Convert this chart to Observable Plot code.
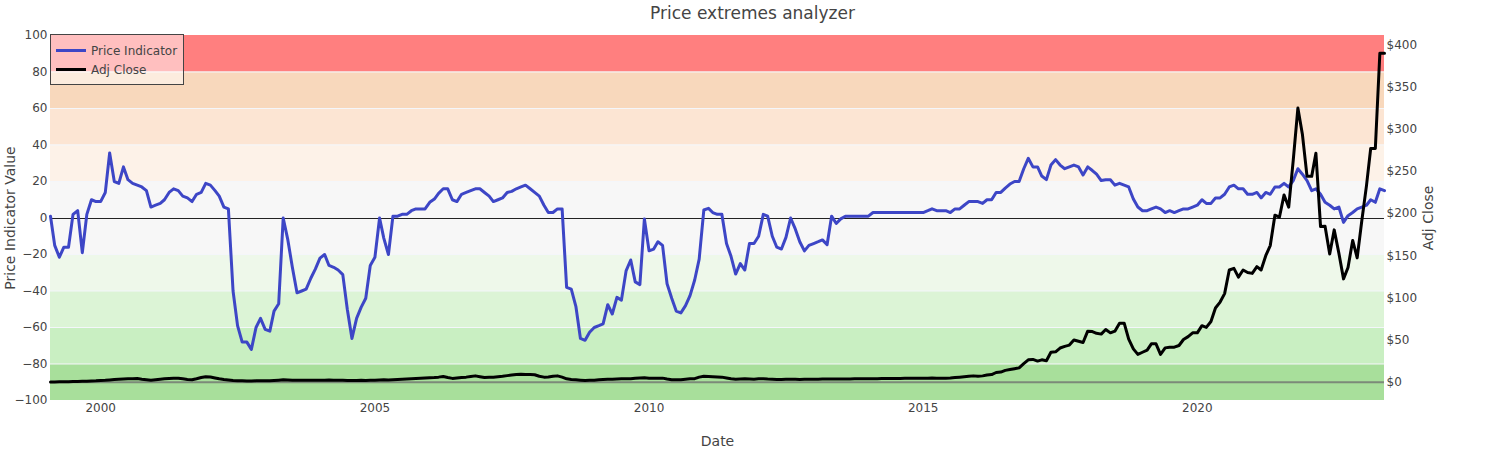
<!DOCTYPE html>
<html><head><meta charset="utf-8">
<script src="https://cdn.jsdelivr.net/npm/d3@7"></script>
<script src="https://cdn.jsdelivr.net/npm/@observablehq/plot@0.6"></script>
<style>
body{margin:0;background:#fff;font-family:"DejaVu Sans",sans-serif;}
#wrap{position:relative;width:1504px;height:450px;}
#legend{position:absolute;left:50px;top:34px;width:134px;height:51px;border:1px solid #444;background:rgba(255,255,255,0.5);box-sizing:border-box;}
</style></head><body><div id="wrap"></div>
<script>
const title = "Price extremes analyzer";
const startMonth = "1999-02-01";
const priceIndicator = [
1,-15,-21.5,-16,-16,2,4,-19,2,10,9,9,14,35.6,20,19,28,21,19,18,
17,15,6,7,8,10,14,16,15,12,11,9,13,14,19,18,15,12,6,5,
-40,-59,-68,-68,-72,-60,-55,-61,-62,-51,-47,0,-12,-27,-41,-40,-39,-33,-28,-22,
-20,-26,-27,-28.5,-31,-50,-66,-55,-49,-44,-26,-21.5,0,-11,-20,1,1,2,2,4,
5,5,5,8.6,10.4,13.5,16,16,10,9,13,14,15,16,16,14,12,9,10,11,
14,14.6,16,17,18,16,14,12,7,3,3,5,5,-38,-39,-48.6,-66,-67,-62.6,-60,
-59,-58,-47.5,-52.6,-43.5,-45,-29,-23,-35,-36.5,-0.5,-18,-17,-13,-15,-36,-44,-51,-52,-48,
-42.5,-34,-22.5,4.4,5.3,3,2,2,-14,-21,-30.7,-25,-28.5,-14,-14,-10,2,1,-10,-16,
-17,-10.6,0,-6,-13,-18,-15,-14,-13,-12,-14.6,1,-3,-0.5,1,1,1,1,1,1,
3,3,3,3,3,3,3,3,3,3,3,3,4,5,4,4,4,3,5,5,
7,9,9,9,8,10,10,14,14,16.4,18.6,20,20,27,32.7,28,28,23,21,29,
32,29,27,28,29,28,23.6,28,26,24,20.5,21,21,18,19,18,17,10.4,6,4,
4,5,6,5,3,4,3,4,5,5,6,7,10,8,8,11,11,13,17,18,
16,16,13,13,14,11,14,13,17,17,19,17,20.5,27,24,20.5,15,16,13,8.6,
7,5,6,-2.4,1.3,3,5,6,7,10,8.6,16,15
];
const adjClose = [
0.3,0.3,0.4,0.5,0.6,0.8,0.9,1.0,1.2,1.4,1.6,2.0,2.3,2.7,3.1,3.5,3.8,4.0,4.2,4.3,
3.5,2.8,2.2,2.8,3.5,4.0,4.3,4.6,4.7,4.0,3.2,2.8,4.0,5.5,6.5,6.2,5.0,4.0,3.2,2.6,
2.0,1.7,1.6,1.5,1.5,1.6,1.6,1.7,1.7,2.0,2.4,2.8,2.5,2.3,2.2,2.4,2.3,2.2,2.2,2.3,
2.4,2.5,2.4,2.3,2.2,2.0,1.9,2.1,2.2,2.0,2.2,2.4,2.6,2.8,2.7,3.0,3.3,3.5,3.8,4.0,
4.3,4.6,5.0,5.3,5.5,6.0,6.7,5.5,4.5,5.0,5.5,6.0,6.7,7.5,6.5,5.5,5.8,6.0,6.5,7.0,
7.8,8.5,9.0,9.5,9.2,9.0,8.8,7.0,6.0,6.2,7.0,7.5,6.0,4.0,3.2,2.8,2.4,2.0,2.2,2.4,
2.8,3.2,3.6,3.5,3.8,4.0,4.0,4.2,4.8,5.0,5.2,4.6,4.7,4.8,4.8,3.8,3.0,2.8,3.0,3.5,
4.0,4.2,6.0,7.0,6.8,6.5,6.2,6.0,5.0,4.0,3.5,3.8,4.0,3.8,3.6,4.0,4.2,3.8,3.5,3.3,
3.3,3.4,3.5,3.4,3.3,3.4,3.5,3.6,3.6,3.7,3.8,3.8,3.7,3.8,3.9,3.9,4.0,4.0,4.0,4.0,
4.1,4.2,4.3,4.4,4.4,4.5,4.5,4.6,4.6,4.7,4.7,4.8,4.8,4.9,4.8,4.7,4.8,5.0,5.5,6.0,
6.5,7.0,7.5,7.0,7.5,8.5,9.0,11.5,12.0,14.0,15.0,16.0,17.0,22.0,26.5,27.0,25.0,26.5,25.5,35.5,
36.0,40.5,42.5,44.0,50.0,48.5,47.0,60.5,60.0,58.0,57.0,62.5,58.5,60.5,70.0,70.0,51,39.5,33,35.5,
38,45.5,45.5,33,40.7,41.5,41.5,43.5,50.6,54,58.5,58.5,67,65,72,88,95,105,133,135,
124.5,133,130,129,137,133,150,162,198,195.6,222,207.5,263,325,294,244,244,271.5,184.5,185,
152,180.6,153,122.5,136,168,147.4,191.7,233,277,277,390,390
];
const bandEdges = [-100,-80,-60,-40,-20,20,40,60,80,100];
const bandColors = ["#a8df9b","#c9efc2","#dcf4d6","#eef8ea","#f7f7f7","#fdf2e8","#fce5d3","#f8d8bc","#ff7f7f"];
const leftTicks = [-100,-80,-60,-40,-20,0,20,40,60,80,100];
const gridTicks = [-80,-60,-40,-20,20,40,60,80];
const rightTicks = [0,50,100,150,200,250,300,350,400];
const xTickYears = [2000,2005,2010,2015,2020];
const rightDomain = [-21.7,411];

const start = new Date(startMonth);
const dates = priceIndicator.map((_, i) => d3.utcMonth.offset(start, i));
const toLeft = d3.scaleLinear().domain(rightDomain).range([-100, 100]);
const data = dates.map((d, i) => ({date: d, pi: priceIndicator[i], adj: toLeft(adjClose[i])}));
const x0 = dates[0], x1 = dates[dates.length - 1];
const bands = bandColors.map((c, i) => ({x1: x0, x2: x1, lo: bandEdges[i], hi: bandEdges[i + 1], c}));
const xTicks = xTickYears.map(y => new Date(Date.UTC(y, 0, 1)));
const F = "'DejaVu Sans', Verdana, sans-serif";

const chart = Plot.plot({
  width: 1504, height: 450,
  marginTop: 35, marginBottom: 50, marginLeft: 50, marginRight: 120,
  style: {fontFamily: F, fontSize: "12px", color: "#444", background: "white", overflow: "visible"},
  x: {type: "utc", domain: [x0, x1]},
  y: {domain: [-100, 100]},
  color: {type: "identity"},
  marks: [
    Plot.rect(bands, {x1: "x1", x2: "x2", y1: "lo", y2: "hi", fill: "c"}),
    Plot.ruleY(gridTicks, {stroke: "#f4f6fa", strokeWidth: 1.2}),
    Plot.ruleY([0], {stroke: "#222", strokeWidth: 1, shapeRendering: "crispEdges"}),
    Plot.ruleY([toLeft(0)], {stroke: "#6e6e6e", strokeWidth: 2, strokeOpacity: 0.75}),
    Plot.line(data, {x: "date", y: "pi", stroke: "#3d46c6", strokeWidth: 3}),
    Plot.line(data, {x: "date", y: "adj", stroke: "#000", strokeWidth: 3}),
    Plot.axisX(xTicks, {tickSize: 0, tickPadding: 3, tickFormat: "%Y", label: null}),
    Plot.axisY(leftTicks, {anchor: "left", tickSize: 0, tickPadding: 3, label: null}),
    Plot.axisY(rightTicks.map(v => toLeft(v)), {anchor: "right", tickSize: 0, tickPadding: 2, label: null,
      tickFormat: v => "$" + Math.round(toLeft.invert(v))}),
    Plot.text([title], {text: d => d, frameAnchor: "top", dx: 35, dy: -22, lineAnchor: "middle", textAnchor: "middle", fontSize: 17, fill: "#444"}),
    Plot.text(["Price Indicator Value"], {text: d => d, frameAnchor: "left", dx: -40, rotate: -90, textAnchor: "middle", lineAnchor: "middle", fontSize: 14, fill: "#444"}),
    Plot.text(["Adj Close"], {text: d => d, frameAnchor: "right", dx: 44, rotate: -90, textAnchor: "middle", lineAnchor: "middle", fontSize: 14, fill: "#444"}),
    Plot.text(["Date"], {text: d => d, frameAnchor: "bottom", dy: 41, lineAnchor: "middle", textAnchor: "middle", fontSize: 14, fill: "#444"})
  ]
});
const wrap = document.getElementById("wrap");
wrap.appendChild(chart);
const legend = document.createElement("div");
legend.id = "legend";
legend.innerHTML = `<svg width="132" height="49" style="display:block;font-family:${F};font-size:12px">
<line x1="5" x2="35" y1="15.5" y2="15.5" stroke="#3d46c6" stroke-width="3"/>
<text x="40" y="15.5" dy="0.35em" fill="#444">Price Indicator</text>
<line x1="5" x2="35" y1="34.5" y2="34.5" stroke="#000" stroke-width="3"/>
<text x="40" y="34.5" dy="0.35em" fill="#444">Adj Close</text></svg>`;
wrap.appendChild(legend);
</script></body></html>
